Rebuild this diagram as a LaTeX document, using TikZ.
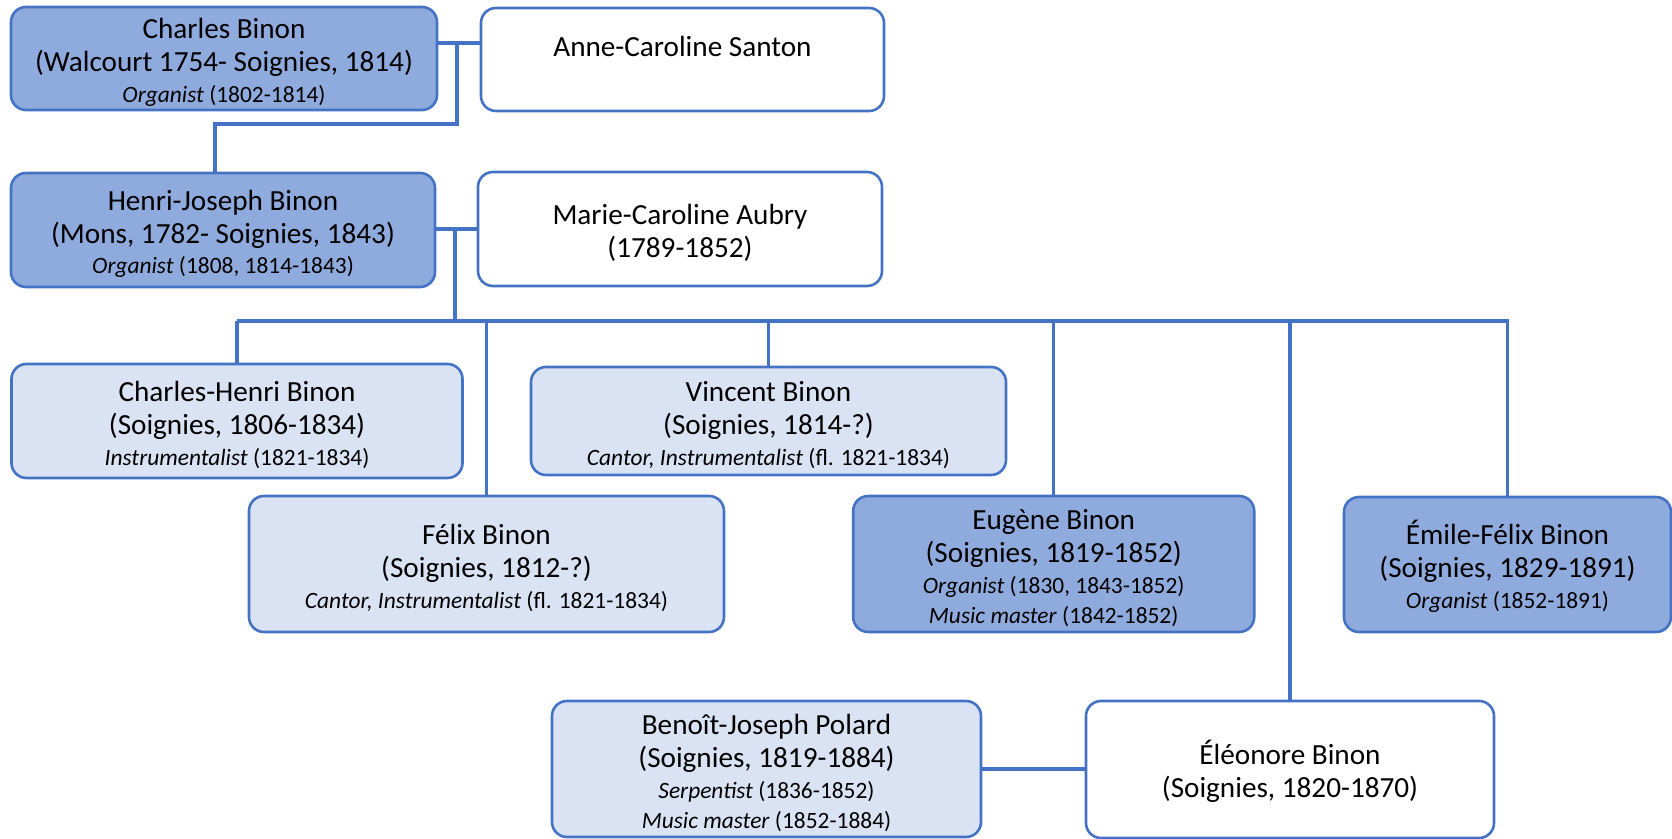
\documentclass[tikz,border=0pt]{standalone}
\usepackage{fontspec}
\setmainfont{Carlito}
\definecolor{linkblue}{HTML}{4472C4}
\definecolor{orgblue}{HTML}{8FAADC}
\definecolor{paleblue}{HTML}{DAE3F3}
\newcommand{\role}[2]{{\fontsize{11.7}{14}\selectfont\textit{#1} #2}}
\newcommand{\headroom}{\rule{0pt}{14pt}}

\begin{document}
\begin{tikzpicture}[x=0.5pt, y=-0.5pt,
    person/.style={draw=linkblue, line width=1.3pt, rounded corners=7.5pt, align=center,
                   inner sep=0pt, font=\fontsize{14.6}{16.7}\selectfont},
    organist/.style={person, fill=orgblue},
    musician/.style={person, fill=paleblue},
    spouse/.style={person, fill=white},
    link/.style={draw=linkblue, line width=1.6pt}]
        \useasboundingbox (0,0) rectangle (1672,839);

        % Generation 1
        \node[organist, minimum width=213pt, minimum height=51.5pt] (charles) at (224,58.5)
            {\headroom Charles Binon\\(Walcourt 1754- Soignies, 1814)\\[-1.5pt]\role{Organist}{(1802-1814)}};
        \node[spouse, minimum width=201.5pt, minimum height=51.5pt] (anne) at (682.5,59.5)
            {\headroom Anne-Caroline Santon\\~};

        % Generation 2
        \node[organist, minimum width=212pt, minimum height=57pt] (henri) at (223,230)
            {\headroom Henri-Joseph Binon\\(Mons, 1782- Soignies, 1843)\\[-1.5pt]\role{Organist}{(1808, 1814-1843)}};
        \node[spouse, minimum width=202pt, minimum height=57pt] (marie) at (680,229)
            {\headroom Marie-Caroline Aubry\\(1789-1852)};

        % Kinder
        \node[musician, minimum width=225.5pt, minimum height=57pt] (chenri) at (237,421)
            {\headroom Charles-Henri Binon\\(Soignies, 1806-1834)\\[-1.5pt]\role{Instrumentalist}{(1821-1834)}};
        \node[musician, minimum width=237.5pt, minimum height=54pt] (vincent) at (768.5,421)
            {\headroom Vincent Binon\\(Soignies, 1814-?)\\[-1.5pt]\role{Cantor, Instrumentalist}{(fl. 1821-1834)}};
        \node[musician, minimum width=237.5pt, minimum height=68pt] (felix) at (486.5,564)
            {\headroom Félix Binon\\(Soignies, 1812-?)\\[-1.5pt]\role{Cantor, Instrumentalist}{(fl. 1821-1834)}};
        \node[organist, minimum width=200.5pt, minimum height=68pt] (eugene) at (1053.7,564)
            {\headroom Eugène Binon\\(Soignies, 1819-1852)\\[-1.5pt]\role{Organist}{(1830, 1843-1852)}\\[-1.7pt]\role{Music master}{(1842-1852)}};
        \node[organist, minimum width=163.5pt, minimum height=67.5pt] (emile) at (1507.5,564.5)
            {\headroom Émile-Félix Binon\\(Soignies, 1829-1891)\\[-1.5pt]\role{Organist}{(1852-1891)}};

        % Eleonore und Ehemann
        \node[musician, minimum width=214.5pt, minimum height=68pt] (benoit) at (766.5,769)
            {\headroom Benoît-Joseph Polard\\(Soignies, 1819-1884)\\[-1.5pt]\role{Serpentist}{(1836-1852)}\\[-1.7pt]\role{Music master}{(1852-1884)}};
        \node[spouse, minimum width=204pt, minimum height=68.5pt] (eleonore) at (1290,769.5)
            {\headroom Éléonore Binon\\(Soignies, 1820-1870)};

        % Verbindungen
        \coordinate (cm) at (457,43);
        \coordinate (cd) at (215,124);
        \draw[link] (charles.east |- cm) -- (anne.west |- cm);
        \draw[link] (cm) |- (cd) -- (cd |- henri.north);

        \coordinate (hm) at (455,229);
        \coordinate (bus-l) at (237,321);
        \coordinate (bus-r) at (1509,321);
        \draw[link] (henri.east |- hm) -- (marie.west |- hm);
        \draw[link] (hm) -- (hm |- bus-l);
        \draw[link] (bus-l) -- (bus-r);
        \foreach \kid in {chenri, vincent, felix, eugene, emile, eleonore}
            \draw[link] (\kid.north |- bus-l) -- (\kid.north);

        \draw[link] (benoit.east) -- (eleonore.west |- benoit.east);
    \end{tikzpicture}
\end{document}
